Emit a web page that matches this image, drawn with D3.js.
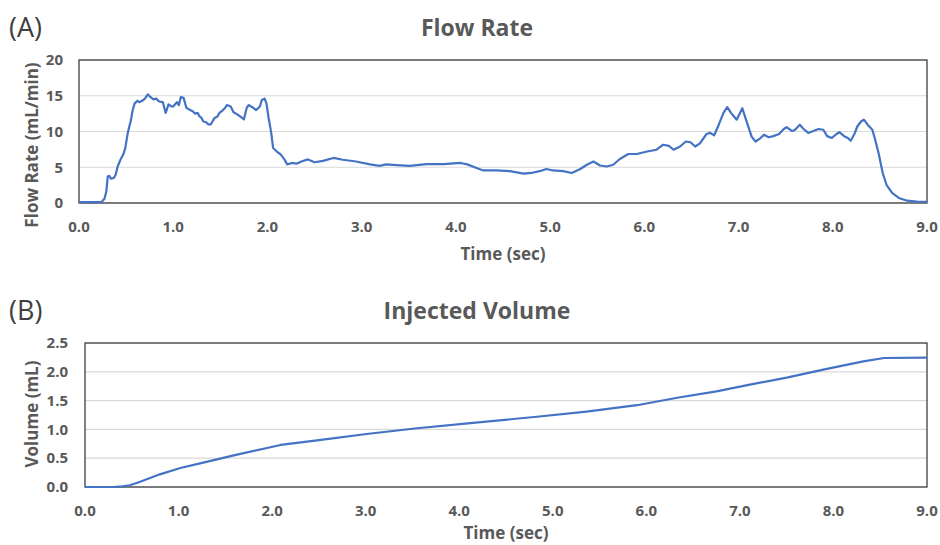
<!DOCTYPE html>
<html>
<head>
<meta charset="utf-8">
<script src="https://cdn.jsdelivr.net/npm/d3@7"></script>
<style>
  body { margin: 0; background: #fff; }
  svg text { font-family: "Open Sans", "Noto Sans", sans-serif; }
</style>
</head>
<body>
<svg id="chart" width="940" height="545"></svg>
<script>
// data

const flowTime = [0.00, 0.10, 0.20, 0.24, 0.27, 0.29, 0.305, 0.32, 0.34, 0.37, 0.39, 0.41, 0.445, 0.47, 0.49, 0.515, 0.53, 0.55, 0.57, 0.59,
  0.62, 0.64, 0.67, 0.70, 0.73, 0.76, 0.79, 0.82, 0.85, 0.89, 0.92, 0.95, 0.98, 1.00, 1.02, 1.04, 1.06, 1.08, 1.11, 1.14,
  1.18, 1.21, 1.23, 1.26, 1.28, 1.30, 1.32, 1.35, 1.37, 1.40, 1.42, 1.44, 1.47, 1.49, 1.52, 1.55, 1.57, 1.61, 1.64, 1.68,
  1.72, 1.75, 1.78, 1.80, 1.84, 1.88, 1.92, 1.94, 1.97, 1.99, 2.01, 2.04, 2.06, 2.10, 2.14, 2.18, 2.21, 2.26, 2.31, 2.36,
  2.43, 2.50, 2.59, 2.70, 2.80, 2.94, 3.09, 3.19, 3.26, 3.37, 3.51, 3.69, 3.87, 4.05, 4.12, 4.22, 4.29, 4.43, 4.57, 4.72,
  4.80, 4.89, 4.96, 5.03, 5.14, 5.23, 5.32, 5.39, 5.46, 5.53, 5.60, 5.67, 5.74, 5.83, 5.92, 6.03, 6.13, 6.20, 6.26, 6.31,
  6.38, 6.44, 6.49, 6.54, 6.59, 6.66, 6.70, 6.74, 6.79, 6.84, 6.88, 6.92, 6.98, 7.04, 7.09, 7.14, 7.18, 7.23, 7.27, 7.32,
  7.37, 7.43, 7.48, 7.51, 7.57, 7.60, 7.65, 7.69, 7.74, 7.80, 7.85, 7.90, 7.94, 7.99, 8.04, 8.07, 8.12, 8.16, 8.19, 8.23,
  8.26, 8.30, 8.33, 8.37, 8.42, 8.45, 8.49, 8.53, 8.57, 8.63, 8.70, 8.79, 8.89, 9.00];
const flowRate = [0.14, 0.12, 0.12, 0.15, 0.6, 1.6, 3.7, 3.8, 3.4, 3.5, 4.0, 5.1, 6.2, 6.8, 7.6, 9.6, 10.5, 11.5, 13.0, 13.9,
  14.3, 14.1, 14.3, 14.6, 15.2, 14.8, 14.5, 14.6, 14.2, 14.1, 12.6, 13.8, 13.5, 13.5, 13.8, 14.1, 13.7, 14.8, 14.7, 13.3,
  13.0, 12.8, 12.5, 12.6, 12.1, 11.9, 11.4, 11.3, 11.0, 11.0, 11.5, 11.9, 12.1, 12.6, 12.9, 13.3, 13.7, 13.5, 12.7, 12.4,
  12.0, 11.7, 13.3, 13.7, 13.4, 13.0, 13.5, 14.4, 14.6, 13.9, 12.1, 9.8, 7.7, 7.2, 6.8, 6.1, 5.4, 5.6, 5.5, 5.8,
  6.1, 5.7, 5.9, 6.3, 6.05, 5.8, 5.4, 5.2, 5.4, 5.3, 5.2, 5.45, 5.45, 5.6, 5.4, 4.9, 4.55, 4.55, 4.45, 4.1,
  4.2, 4.45, 4.75, 4.55, 4.45, 4.2, 4.75, 5.35, 5.8, 5.25, 5.1, 5.35, 6.15, 6.85, 6.85, 7.2, 7.45, 8.15, 8.0, 7.45,
  7.9, 8.6, 8.5, 7.9, 8.35, 9.65, 9.8, 9.45, 10.95, 12.6, 13.4, 12.6, 11.65, 13.25, 11.2, 9.25, 8.6, 9.05, 9.55, 9.2,
  9.35, 9.65, 10.35, 10.6, 10.05, 10.25, 10.95, 10.35, 9.8, 10.1, 10.35, 10.25, 9.35, 9.1, 9.65, 9.9, 9.35, 9.1, 8.7, 9.65,
  10.7, 11.4, 11.65, 10.95, 10.25, 8.85, 6.75, 4.2, 2.55, 1.4, 0.7, 0.32, 0.2, 0.15];

const volTime = [0.00, 0.30, 0.40, 0.48, 0.59, 0.80, 1.02, 1.23, 1.59, 2.09, 2.48, 3.01, 3.55, 4.12, 4.83, 5.36, 5.90, 6.33, 6.75, 7.08, 7.50, 7.93, 8.32, 8.54, 9.00];
const volValue = [0.00, 0.00, 0.01, 0.03, 0.09, 0.22, 0.33, 0.41, 0.55, 0.73, 0.81, 0.92, 1.02, 1.11, 1.22, 1.31, 1.42, 1.55, 1.66, 1.77, 1.90, 2.05, 2.18, 2.24, 2.245];

const timeTicks = [0, 1, 2, 3, 4, 5, 6, 7, 8, 9];
const flowTicks = [0, 5, 10, 15, 20];
const volTicks = [0, 0.5, 1, 1.5, 2, 2.5];

const svg = d3.select('#chart');
const textColor = '#595959';
const lineColor = '#4472c4';

function drawPanel(opt) {
  const g = svg.append('g');
  const x = d3.scaleLinear().domain([0, 9]).range([opt.left, opt.right]);
  const y = d3.scaleLinear().domain(opt.yDomain).range([opt.bottom, opt.top]);

  // gridlines
  g.selectAll('.grid')
    .data(opt.yTicks)
    .enter()
    .append('line')
    .attr('x1', opt.left).attr('x2', opt.right)
    .attr('y1', d => y(d)).attr('y2', d => y(d))
    .attr('stroke', '#d9d9d9')
    .attr('stroke-width', 1.2);

  // border of plot area
  g.append('rect')
    .attr('x', opt.left).attr('y', opt.top)
    .attr('width', opt.right - opt.left).attr('height', opt.bottom - opt.top)
    .attr('fill', 'none')
    .attr('stroke', '#404040')
    .attr('stroke-width', 1.3);

  // y tick labels
  g.selectAll('.ylab')
    .data(opt.yTicks)
    .enter()
    .append('text')
    .attr('x', opt.left - opt.yLabGap)
    .attr('y', d => y(d))
    .attr('dy', '0.35em')
    .attr('text-anchor', 'end')
    .attr('font-size', 15)
    .attr('font-weight', 'bold')
    .attr('fill', textColor)
    .text(d => opt.yFmt(d));

  // x tick labels
  g.selectAll('.xlab')
    .data(timeTicks)
    .enter()
    .append('text')
    .attr('x', d => x(d))
    .attr('y', opt.bottom + 24)
    .attr('dy', '0.35em')
    .attr('text-anchor', 'middle')
    .attr('font-size', 15)
    .attr('font-weight', 'bold')
    .attr('fill', textColor)
    .text(d => d3.format('.1f')(d));

  // line
  const pts = opt.xs.map((t, i) => [t, opt.ys[i]]);
  g.append('path')
    .datum(pts)
    .attr('fill', 'none')
    .attr('stroke', lineColor)
    .attr('stroke-width', 2.2)
    .attr('stroke-linejoin', 'round')
    .attr('d', d3.line().x(d => x(d[0])).y(d => y(d[1])));

  // titles
  g.append('text')
    .attr('x', 477).attr('y', opt.titleY)
    .attr('text-anchor', 'middle')
    .attr('font-size', 23)
    .attr('font-weight', 'bold')
    .attr('fill', textColor)
    .text(opt.title);

  g.append('text')
    .attr('x', 9).attr('y', opt.titleY + 1)
    .attr('font-size', 27)
    .attr('fill', '#404040')
    .text(opt.tag);

  g.append('text')
    .attr('x', (opt.left + opt.right) / 2).attr('y', opt.bottom + opt.xTitleGap)
    .attr('text-anchor', 'middle')
    .attr('font-size', 17)
    .attr('font-weight', 'bold')
    .attr('fill', textColor)
    .text('Time (sec)');

  g.append('text')
    .attr('transform', `translate(38, ${opt.yTitleY}) rotate(-90)`)
    .attr('text-anchor', 'middle')
    .attr('font-size', 17)
    .attr('font-weight', 'bold')
    .attr('fill', textColor)
    .text(opt.yTitle);
}

drawPanel({
  left: 79, right: 927, top: 60, bottom: 203,
  yDomain: [0, 20], yTicks: flowTicks, yFmt: d3.format('d'), yLabGap: 16,
  xs: flowTime, ys: flowRate,
  title: 'Flow Rate', tag: '(A)', titleY: 36, xTitleGap: 57,
  yTitle: 'Flow Rate (mL/min)', yTitleY: 145
});

drawPanel({
  left: 85, right: 927, top: 343, bottom: 487,
  yDomain: [0, 2.5], yTicks: volTicks, yFmt: d3.format('.1f'), yLabGap: 17,
  xs: volTime, ys: volValue,
  title: 'Injected Volume', tag: '(B)', titleY: 319, xTitleGap: 52,
  yTitle: 'Volume (mL)', yTitleY: 414
});
</script>
</body>
</html>
